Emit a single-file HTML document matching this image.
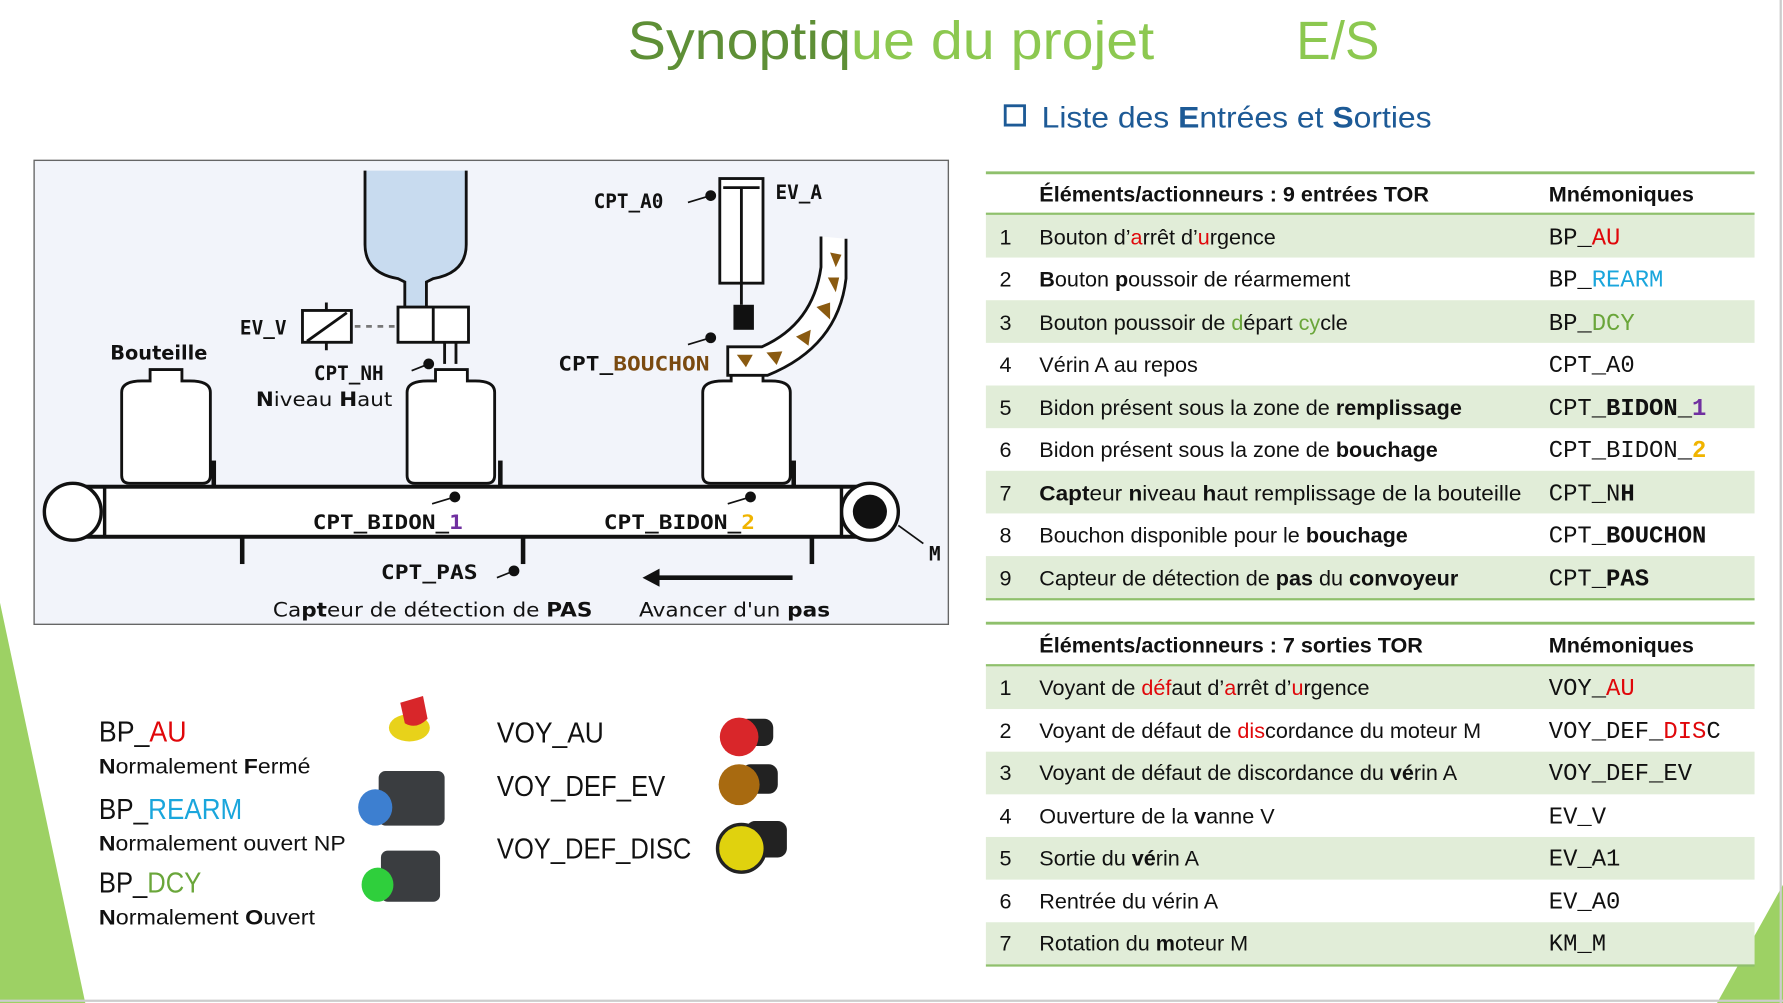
<!DOCTYPE html>
<html><head><meta charset="utf-8"><style>
html,body{margin:0;padding:0;background:#fff;overflow:hidden}
svg{display:block}
.t{font-family:"Liberation Sans",sans-serif;font-size:19px;fill:#111}
.m{font-family:"Liberation Mono","DejaVu Sans Mono",monospace;font-size:21px;fill:#111}
.d{font-family:"DejaVu Sans Mono","Liberation Mono",monospace;font-weight:bold;font-size:17px;fill:#111}
.r{fill:#e0070a}.b{fill:#1aa6dc}.g{fill:#6aa63a}.p{fill:#7030a0}.y{fill:#f0b400}.br{fill:#7a4a10}
</style></head><body>
<svg width="1783" height="1003" viewBox="0 0 1568 882" preserveAspectRatio="none" xmlns="http://www.w3.org/2000/svg">
<rect width="1568" height="882" fill="#fff"/>
<polygon points="0,530 75,882 0,882" fill="#9dd164"/>
<polygon points="1568,778 1510,882 1568,882" fill="#9dd164"/>
<line x1="1566" y1="0" x2="1566" y2="882" stroke="#ccc" stroke-width="2"/>
<line x1="0" y1="880" x2="1568" y2="880" stroke="#ccc" stroke-width="2"/>

<text x="552" y="52" font-family="Liberation Sans,sans-serif" font-size="47" textLength="463" lengthAdjust="spacingAndGlyphs"><tspan fill="#5e8f36">Synoptiq</tspan><tspan fill="#8cc850">ue du projet</tspan></text>
<text x="1140" y="52" font-family="Liberation Sans,sans-serif" font-size="47" fill="#8cc850" textLength="73" lengthAdjust="spacingAndGlyphs">E/S</text>
<rect x="884" y="93" width="17" height="17" fill="#fff" stroke="#1d5a96" stroke-width="2.5"/>
<text x="916" y="112" font-family="Liberation Sans,sans-serif" font-size="26" fill="#1d5a96" textLength="343" lengthAdjust="spacingAndGlyphs">Liste des <tspan font-weight="bold">E</tspan>ntrées et <tspan font-weight="bold">S</tspan>orties</text>

<g>
<rect x="867" y="189" width="676" height="37.5" fill="#e1edd8"/>
<rect x="867" y="264" width="676" height="37.5" fill="#e1edd8"/>
<rect x="867" y="339" width="676" height="37.5" fill="#e1edd8"/>
<rect x="867" y="414" width="676" height="37.5" fill="#e1edd8"/>
<rect x="867" y="489" width="676" height="37.5" fill="#e1edd8"/>
<line x1="867" y1="152" x2="1543" y2="152" stroke="#8fc06c" stroke-width="2.5"/>
<line x1="867" y1="188" x2="1543" y2="188" stroke="#8fc06c" stroke-width="2"/>
<line x1="867" y1="527" x2="1543" y2="527" stroke="#8fc06c" stroke-width="2"/>
<text class="t" x="914" y="177" font-weight="bold">Éléments/actionneurs : 9 entrées TOR</text>
<text class="t" x="1362" y="177" font-weight="bold">Mnémoniques</text>
<text class="t" x="879" y="215">1</text><text class="t" x="914" y="215">Bouton d’<tspan class="r">a</tspan>rrêt d’<tspan class="r">u</tspan>rgence</text><text class="m" x="1362" y="215">BP_<tspan class="r">AU</tspan></text>
<text class="t" x="879" y="252">2</text><text class="t" x="914" y="252"><tspan font-weight="bold">B</tspan>outon <tspan font-weight="bold">p</tspan>oussoir de réarmement</text><text class="m" x="1362" y="252">BP_<tspan class="b">REARM</tspan></text>
<text class="t" x="879" y="290">3</text><text class="t" x="914" y="290">Bouton poussoir de <tspan class="g">d</tspan>épart <tspan class="g">cy</tspan>cle</text><text class="m" x="1362" y="290">BP_<tspan class="g">DCY</tspan></text>
<text class="t" x="879" y="327">4</text><text class="t" x="914" y="327">Vérin A au repos</text><text class="m" x="1362" y="327">CPT_A0</text>
<text class="t" x="879" y="365">5</text><text class="t" x="914" y="365">Bidon présent sous la zone de <tspan font-weight="bold">remplissage</tspan></text><text class="m" x="1362" y="365">CPT_<tspan font-weight="bold">BIDON_</tspan><tspan class="p" font-weight="bold">1</tspan></text>
<text class="t" x="879" y="402">6</text><text class="t" x="914" y="402">Bidon présent sous la zone de <tspan font-weight="bold">bouchage</tspan></text><text class="m" x="1362" y="402">CPT_BIDON_<tspan class="y" font-weight="bold">2</tspan></text>
<text class="t" x="879" y="440">7</text><text class="t" x="914" y="440" textLength="424" lengthAdjust="spacingAndGlyphs"><tspan font-weight="bold">Capt</tspan>eur <tspan font-weight="bold">n</tspan>iveau <tspan font-weight="bold">h</tspan>aut remplissage de la bouteille</text><text class="m" x="1362" y="440">CPT_N<tspan font-weight="bold">H</tspan></text>
<text class="t" x="879" y="477">8</text><text class="t" x="914" y="477">Bouchon disponible pour le <tspan font-weight="bold">bouchage</tspan></text><text class="m" x="1362" y="477">CPT_<tspan font-weight="bold">BOUCHON</tspan></text>
<text class="t" x="879" y="515">9</text><text class="t" x="914" y="515">Capteur de détection de <tspan font-weight="bold">pas</tspan> du <tspan font-weight="bold">convoyeur</tspan></text><text class="m" x="1362" y="515">CPT_<tspan font-weight="bold">PAS</tspan></text>
</g>

<g>
<rect x="867" y="586" width="676" height="37.5" fill="#e1edd8"/>
<rect x="867" y="661" width="676" height="37.5" fill="#e1edd8"/>
<rect x="867" y="736" width="676" height="37.5" fill="#e1edd8"/>
<rect x="867" y="811" width="676" height="37.5" fill="#e1edd8"/>
<line x1="867" y1="548" x2="1543" y2="548" stroke="#8fc06c" stroke-width="2.5"/>
<line x1="867" y1="585" x2="1543" y2="585" stroke="#8fc06c" stroke-width="2"/>
<line x1="867" y1="849" x2="1543" y2="849" stroke="#8fc06c" stroke-width="2"/>
<text class="t" x="914" y="574" font-weight="bold">Éléments/actionneurs : 7 sorties TOR</text>
<text class="t" x="1362" y="574" font-weight="bold">Mnémoniques</text>
<text class="t" x="879" y="611">1</text><text class="t" x="914" y="611">Voyant de <tspan class="r">déf</tspan>aut d’<tspan class="r">a</tspan>rrêt d’<tspan class="r">u</tspan>rgence</text><text class="m" x="1362" y="611">VOY_<tspan class="r">AU</tspan></text>
<text class="t" x="879" y="649">2</text><text class="t" x="914" y="649">Voyant de défaut de <tspan class="r">dis</tspan>cordance du moteur M</text><text class="m" x="1362" y="649">VOY_DEF_<tspan class="r">DIS</tspan>C</text>
<text class="t" x="879" y="686">3</text><text class="t" x="914" y="686">Voyant de défaut de discordance du <tspan font-weight="bold">vé</tspan>rin A</text><text class="m" x="1362" y="686">VOY_DEF_EV</text>
<text class="t" x="879" y="724">4</text><text class="t" x="914" y="724">Ouverture de la <tspan font-weight="bold">v</tspan>anne V</text><text class="m" x="1362" y="724">EV_V</text>
<text class="t" x="879" y="761">5</text><text class="t" x="914" y="761">Sortie du <tspan font-weight="bold">vé</tspan>rin A</text><text class="m" x="1362" y="761">EV_A1</text>
<text class="t" x="879" y="799">6</text><text class="t" x="914" y="799">Rentrée du vérin A</text><text class="m" x="1362" y="799">EV_A0</text>
<text class="t" x="879" y="836">7</text><text class="t" x="914" y="836">Rotation du <tspan font-weight="bold">m</tspan>oteur M</text><text class="m" x="1362" y="836">KM_M</text>
</g>

<rect x="30" y="141" width="804" height="408" fill="#f2f4fa" stroke="#666" stroke-width="1.2"/>
<g stroke="#111" fill="#fff" stroke-width="2.5">
 <path d="M321,150 L321,215 Q321,240 350,245 L356,248 L356,272 L375,272 L375,248 L381,245 Q410,240 410,215 L410,150" fill="#c8dbef"/>
 <rect x="350" y="270" width="62" height="31"/>
 <line x1="381" y1="270" x2="381" y2="301"/>
 <rect x="266" y="273" width="43" height="28"/>
 <line x1="270" y1="300" x2="305" y2="275"/>
 <line x1="287" y1="266" x2="287" y2="273"/>
 <line x1="287" y1="301" x2="287" y2="308"/>
 <line x1="312" y1="287" x2="348" y2="287" stroke-dasharray="5,5" stroke="#777"/>
 <line x1="391" y1="301" x2="391" y2="320"/><line x1="401" y1="301" x2="401" y2="320"/>
 <path d="M107,345 Q107,335 125,335 L132,335 L132,325 L160,325 L160,335 L167,335 Q185,335 185,345 L185,418 Q185,425 178,425 L114,425 Q107,425 107,418 Z"/>
 <path d="M358,345 Q358,335 376,335 L383,335 L383,325 L411,325 L411,335 L418,335 Q435,335 435,345 L435,418 Q435,425 428,425 L365,425 Q358,425 358,418 Z"/>
 <path d="M618,345 Q618,335 636,335 L643,335 L643,325 L671,325 L671,335 L678,335 Q695,335 695,345 L695,418 Q695,425 688,425 L625,425 Q618,425 618,418 Z"/>
 <rect x="633" y="157" width="38" height="92"/>
 <line x1="636" y1="165" x2="668" y2="165"/>
 <line x1="652" y1="165" x2="652" y2="268"/>
 <path d="M744,210 L744,245 Q737,305 675,330 L640,330 L640,305 L670,305 Q715,285 722,235 L722,208" fill="#fff"/>
 <rect x="62" y="428" width="705" height="44" stroke-width="3.5"/>
</g>
<rect x="645" y="268" width="18" height="22" fill="#111"/>
<g fill="#8a5a10">
 <path d="M648,312 L662,312 L656,323 Z"/><path d="M674,310 L688,309 L683,321 Z"/>
 <path d="M700,296 L713,290 L711,304 Z"/><path d="M718,270 L730,266 L730,281 Z"/>
 <path d="M728,244 L738,244 L735,257 Z"/><path d="M730,222 L740,224 L735,235 Z"/>
</g>
<circle cx="64" cy="450" r="25" fill="#fff" stroke="#111" stroke-width="3"/>
<circle cx="765" cy="450" r="25" fill="#fff" stroke="#111" stroke-width="3"/>
<circle cx="765" cy="450" r="15" fill="#111"/>
<rect x="91" y="430" width="648" height="40" fill="#fff"/>
<line x1="92" y1="428" x2="92" y2="472" stroke="#111" stroke-width="3"/>
<line x1="740" y1="428" x2="740" y2="472" stroke="#111" stroke-width="3"/>
<g stroke="#111" stroke-width="4">
 <line x1="188" y1="405" x2="188" y2="428"/><line x1="440" y1="405" x2="440" y2="428"/><line x1="698" y1="405" x2="698" y2="428"/>
 <line x1="213" y1="472" x2="213" y2="496"/><line x1="460" y1="472" x2="460" y2="496"/><line x1="714" y1="472" x2="714" y2="496"/>
</g>
<g fill="#111" stroke="#111" stroke-width="1.5">
 <circle cx="625" cy="172" r="4"/><line x1="605" y1="178" x2="625" y2="172"/>
 <circle cx="377" cy="320" r="4"/><line x1="362" y1="326" x2="377" y2="320"/>
 <circle cx="625" cy="297" r="4"/><line x1="605" y1="303" x2="625" y2="297"/>
 <circle cx="400" cy="437" r="4"/><line x1="380" y1="443" x2="400" y2="437"/>
 <circle cx="660" cy="437" r="4"/><line x1="640" y1="443" x2="660" y2="437"/>
 <circle cx="452" cy="502" r="4"/><line x1="437" y1="508" x2="452" y2="502"/>
 <line x1="790" y1="462" x2="812" y2="478"/>
</g>
<path d="M565,508 L580,500 L580,506 L697,506 L697,510 L580,510 L580,516 Z" fill="#111"/>
<text class="d" x="522" y="183">CPT_A0</text>
<text class="d" x="682" y="175">EV_A</text>
<text class="d" x="211" y="294">EV_V</text>
<text x="97" y="316" font-family="DejaVu Sans,sans-serif" font-weight="bold" font-size="17" fill="#111">Bouteille</text>
<text class="d" x="276" y="334">CPT_NH</text>
<text x="225" y="357" font-family="DejaVu Sans,sans-serif" font-size="17" fill="#111" textLength="120" lengthAdjust="spacingAndGlyphs"><tspan font-weight="bold">N</tspan>iveau <tspan font-weight="bold">H</tspan>aut</text>
<text class="d" x="491" y="326" textLength="133" lengthAdjust="spacingAndGlyphs">CPT_<tspan class="br">BOUCHON</tspan></text>
<text class="d" x="275" y="465" textLength="132" lengthAdjust="spacingAndGlyphs">CPT_BIDON_<tspan class="p">1</tspan></text>
<text class="d" x="531" y="465" textLength="133" lengthAdjust="spacingAndGlyphs">CPT_BIDON_<tspan class="y">2</tspan></text>
<text class="d" x="335" y="509" textLength="85" lengthAdjust="spacingAndGlyphs">CPT_PAS</text>
<text class="d" x="817" y="493" font-size="15">M</text>
<text x="240" y="542" font-family="DejaVu Sans,sans-serif" font-size="17" fill="#111" textLength="281" lengthAdjust="spacingAndGlyphs">Ca<tspan font-weight="bold">pt</tspan>eur de détection de <tspan font-weight="bold">PAS</tspan></text>
<text x="562" y="542" font-family="DejaVu Sans,sans-serif" font-size="17" fill="#111" textLength="168" lengthAdjust="spacingAndGlyphs">Avancer d'un <tspan font-weight="bold">pas</tspan></text>

<g font-family="Liberation Sans,sans-serif" fill="#111">
<text x="87" y="652" font-size="25" textLength="77" lengthAdjust="spacingAndGlyphs">BP_<tspan class="r">AU</tspan></text>
<text x="87" y="680" font-size="19" textLength="186" lengthAdjust="spacingAndGlyphs"><tspan font-weight="bold">N</tspan>ormalement <tspan font-weight="bold">F</tspan>ermé</text>
<text x="87" y="720" font-size="25" textLength="126" lengthAdjust="spacingAndGlyphs">BP_<tspan class="b">REARM</tspan></text>
<text x="87" y="748" font-size="19" textLength="217" lengthAdjust="spacingAndGlyphs"><tspan font-weight="bold">N</tspan>ormalement ouvert NP</text>
<text x="87" y="785" font-size="25" textLength="90" lengthAdjust="spacingAndGlyphs">BP_<tspan class="g">DCY</tspan></text>
<text x="87" y="813" font-size="19" textLength="190" lengthAdjust="spacingAndGlyphs"><tspan font-weight="bold">N</tspan>ormalement <tspan font-weight="bold">O</tspan>uvert</text>
<text x="437" y="653" font-size="25" textLength="94" lengthAdjust="spacingAndGlyphs">VOY_AU</text>
<text x="437" y="700" font-size="25" textLength="148" lengthAdjust="spacingAndGlyphs">VOY_DEF_EV</text>
<text x="437" y="755" font-size="25" textLength="171" lengthAdjust="spacingAndGlyphs">VOY_DEF_DISC</text>
</g>
<ellipse cx="360" cy="640" rx="18" ry="12" fill="#e8d21a"/>
<path d="M352,618 L372,612 L376,632 Q366,642 356,636 Z" fill="#d8262a"/>
<rect x="333" y="678" width="58" height="48" rx="6" fill="#3a3d40"/>
<ellipse cx="330" cy="710" rx="15" ry="16" fill="#3d7fd0"/>
<rect x="335" y="748" width="52" height="45" rx="6" fill="#3a3d40"/>
<ellipse cx="332" cy="778" rx="14" ry="15" fill="#2fcf3c"/>
<rect x="650" y="632" width="30" height="24" rx="8" fill="#222"/>
<circle cx="650" cy="648" r="17" fill="#d9262a"/>
<rect x="652" y="672" width="32" height="26" rx="8" fill="#222"/>
<circle cx="650" cy="690" r="18" fill="#a86a10"/>
<rect x="656" y="722" width="36" height="32" rx="8" fill="#222"/>
<circle cx="652" cy="746" r="21" fill="#e0d20e" stroke="#222" stroke-width="3"/>
</svg>
</body></html>
